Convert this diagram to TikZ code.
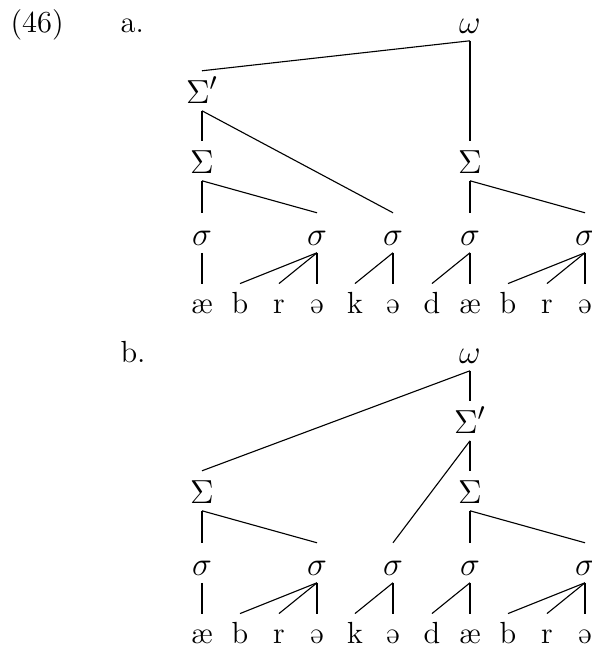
\documentclass[tikz,border=0pt]{standalone}
\usepackage{fontspec}
\usepackage{tikz}
\tikzset{
  lab/.style={anchor=base, font=\fontsize{13}{15}\selectfont, text height=8.8pt, text depth=0pt, inner sep=2.6pt},
  seg/.style={anchor=base, font=\fontsize{11}{13}\selectfont, text height=7.6pt, text depth=0pt, inner sep=2.8pt},
  exnum/.style={anchor=base west, font=\fontsize{11}{13}\selectfont, inner sep=0pt},
  branch/.style={line width=0.4pt}
}

\begin{document}
\begin{tikzpicture}[x=0.36pt, y=-0.36pt]
    \useasboundingbox (0,0) rectangle (591,649);
    % example numbers
    \node[exnum] (ex) at (10,32) {(46)};
    \node[exnum] (exa) at (120,32) {a.};
    \node[exnum] (exb) at (120,362) {b.};
    % tree a
    \node[lab] (wa) at (470,33) {$\omega$};
    \node[lab] (Spa) at (202,103) {$\Sigma'$};
    \node[lab] (Sa1) at (202,173) {$\Sigma$};
    \node[lab] (Sa2) at (470,173) {$\Sigma$};
    \node[lab] (sa1) at (202,245) {$\sigma$};
    \node[lab] (sa2) at (317,245) {$\sigma$};
    \node[lab] (sa3) at (393,245) {$\sigma$};
    \node[lab] (sa4) at (470,245) {$\sigma$};
    \node[lab] (sa5) at (585,245) {$\sigma$};
    \node[seg] (a1) at (202,313) {æ};
    \node[seg] (a2) at (240,313) {b};
    \node[seg] (a3) at (279,313) {r};
    \node[seg] (a4) at (317,313) {ə};
    \node[seg] (a5) at (355,313) {k};
    \node[seg] (a6) at (393,313) {ə};
    \node[seg] (a7) at (432,313) {d};
    \node[seg] (a8) at (470,313) {æ};
    \node[seg] (a9) at (508,313) {b};
    \node[seg] (a10) at (547,313) {r};
    \node[seg] (a11) at (585,313) {ə};
    \draw[branch] (wa.south) -- (Spa.north);
    \draw[branch] (wa.south) -- (Sa2.north);
    \draw[branch] (Spa.south) -- (Sa1.north);
    \draw[branch] (Spa.south) -- (sa3.north);
    \draw[branch] (Sa1.south) -- (sa1.north);
    \draw[branch] (Sa1.south) -- (sa2.north);
    \draw[branch] (Sa2.south) -- (sa4.north);
    \draw[branch] (Sa2.south) -- (sa5.north);
    \draw[branch] (sa1.south) -- (a1.north);
    \draw[branch] (sa2.south) -- (a2.north);
    \draw[branch] (sa2.south) -- (a3.north);
    \draw[branch] (sa2.south) -- (a4.north);
    \draw[branch] (sa3.south) -- (a5.north);
    \draw[branch] (sa3.south) -- (a6.north);
    \draw[branch] (sa4.south) -- (a7.north);
    \draw[branch] (sa4.south) -- (a8.north);
    \draw[branch] (sa5.south) -- (a9.north);
    \draw[branch] (sa5.south) -- (a10.north);
    \draw[branch] (sa5.south) -- (a11.north);
    % tree b
    \node[lab] (wb) at (470,363) {$\omega$};
    \node[lab] (Spb) at (470,433) {$\Sigma'$};
    \node[lab] (Sb1) at (202,503) {$\Sigma$};
    \node[lab] (Sb2) at (470,503) {$\Sigma$};
    \node[lab] (sb1) at (202,575) {$\sigma$};
    \node[lab] (sb2) at (317,575) {$\sigma$};
    \node[lab] (sb3) at (393,575) {$\sigma$};
    \node[lab] (sb4) at (470,575) {$\sigma$};
    \node[lab] (sb5) at (585,575) {$\sigma$};
    \node[seg] (b1) at (202,643) {æ};
    \node[seg] (b2) at (240,643) {b};
    \node[seg] (b3) at (279,643) {r};
    \node[seg] (b4) at (317,643) {ə};
    \node[seg] (b5) at (355,643) {k};
    \node[seg] (b6) at (393,643) {ə};
    \node[seg] (b7) at (432,643) {d};
    \node[seg] (b8) at (470,643) {æ};
    \node[seg] (b9) at (508,643) {b};
    \node[seg] (b10) at (547,643) {r};
    \node[seg] (b11) at (585,643) {ə};
    \draw[branch] (wb.south) -- (Sb1.north);
    \draw[branch] (wb.south) -- (Spb.north);
    \draw[branch] (Spb.south) -- (Sb2.north);
    \draw[branch] (Spb.south) -- (sb3.north);
    \draw[branch] (Sb1.south) -- (sb1.north);
    \draw[branch] (Sb1.south) -- (sb2.north);
    \draw[branch] (Sb2.south) -- (sb4.north);
    \draw[branch] (Sb2.south) -- (sb5.north);
    \draw[branch] (sb1.south) -- (b1.north);
    \draw[branch] (sb2.south) -- (b2.north);
    \draw[branch] (sb2.south) -- (b3.north);
    \draw[branch] (sb2.south) -- (b4.north);
    \draw[branch] (sb3.south) -- (b5.north);
    \draw[branch] (sb3.south) -- (b6.north);
    \draw[branch] (sb4.south) -- (b7.north);
    \draw[branch] (sb4.south) -- (b8.north);
    \draw[branch] (sb5.south) -- (b9.north);
    \draw[branch] (sb5.south) -- (b10.north);
    \draw[branch] (sb5.south) -- (b11.north);
  \end{tikzpicture}
\end{document}
